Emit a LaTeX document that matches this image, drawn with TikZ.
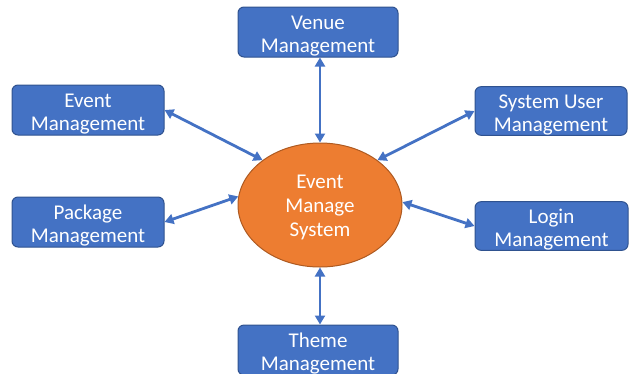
\documentclass[tikz,border=0pt]{standalone}
\usepackage{fontspec}
\setmainfont{Carlito}
\usetikzlibrary{arrows.meta,shapes.geometric}
\definecolor{boxblue}{HTML}{4472C4}
\definecolor{boxedge}{HTML}{2F528F}
\definecolor{sysorange}{HTML}{ED7D31}
\definecolor{sysedge}{HTML}{AE5A21}
\newcommand{\boxpad}{\rule{0pt}{21.5pt}}
\newcommand{\ellpad}{\rule{0pt}{18pt}}
\tikzset{
  modbox/.style={draw=boxedge, line width=1pt, fill=boxblue, rounded corners=6pt,
    text=white, align=center, inner sep=0pt, font=\fontsize{21}{23.5}\selectfont},
  link/.style={draw=boxblue, line width=2.8pt,
    {Triangle[length=9pt,width=10pt]}-{Triangle[length=9pt,width=10pt]}}
}
\begin{document}
\begin{tikzpicture}[x=1pt,y=-1pt]
\useasboundingbox (0,0) rectangle (629,373);
\node[modbox, minimum width=160pt, minimum height=50pt] (venue) at (318,32) {\boxpad Venue\\Management};
\node[modbox, minimum width=152pt, minimum height=50pt] (event) at (88,110) {\boxpad Event\\Management};
\node[modbox, minimum width=152pt, minimum height=50pt] (package) at (88,222) {\boxpad Package\\Management};
\node[modbox, minimum width=152pt, minimum height=48pt] (sysuser) at (551,111) {\boxpad System User\\Management};
\node[modbox, minimum width=153pt, minimum height=48pt] (login) at (551.5,226) {\boxpad Login\\Management};
\node[modbox, minimum width=160pt, minimum height=50pt] (theme) at (318,350) {\boxpad Theme\\Management};
\node[ellipse, draw=sysedge, line width=1pt, fill=sysorange, text=white, align=center,
  inner sep=0pt, minimum width=164pt, minimum height=124pt,
  font=\fontsize{21}{24}\selectfont] (sys) at (320,205) {\ellpad Event\\Manage\\System};
\draw[link] (sys.north |- venue.south) -- (sys.north);
\draw[link] (event.east) -- (sys.142);
\draw[link] (package.east) -- (sys.174);
\draw[link] (sysuser.west) -- (sys.38);
\draw[link] (sys.2) -- (login.west);
\draw[link] (sys.south) -- (sys.south |- theme.north);
\end{tikzpicture}
\end{document}
